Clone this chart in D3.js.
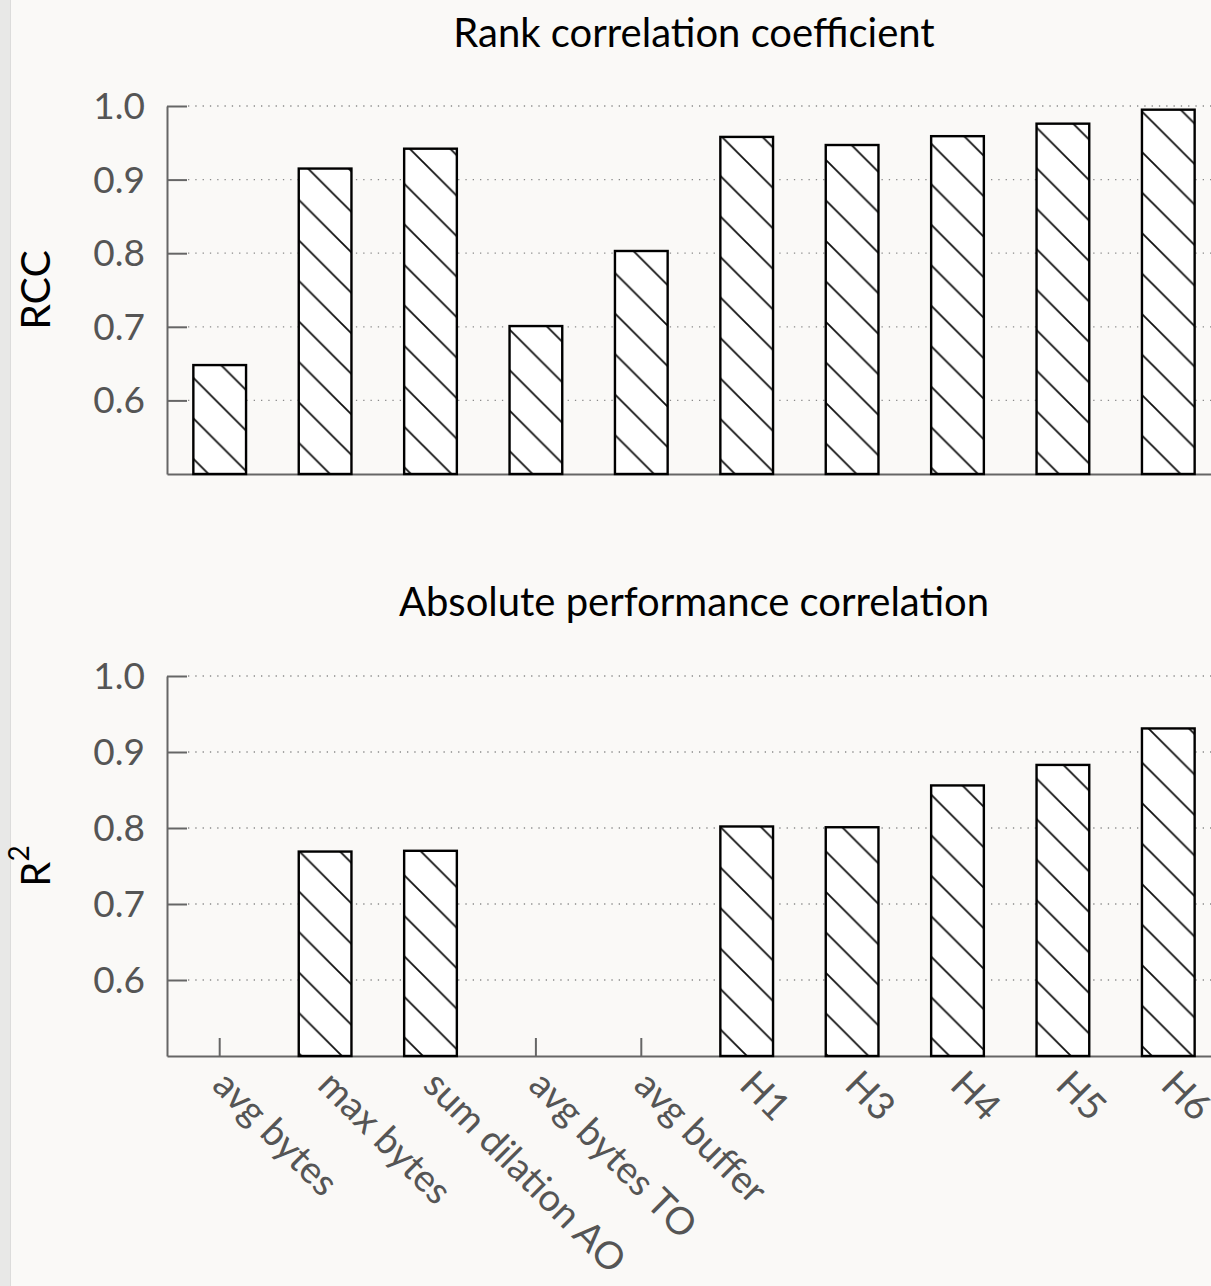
<!DOCTYPE html>
<html>
<head>
<meta charset="utf-8">
<script src="https://cdn.jsdelivr.net/npm/d3@7"></script>
<style>
  html, body { margin: 0; padding: 0; background: #faf9f7; overflow: hidden; }
  svg { display: block; }
  text { font-family: Lato, "Open Sans", sans-serif; }
</style>
</head>
<body>
<svg id="chart" width="1211" height="1286"></svg>
<script>
// Metrics compared against measured performance
const categories = ["avg bytes", "max bytes", "sum dilation AO", "avg bytes TO", "avg buffer",
                    "H1", "H3", "H4", "H5", "H6"];
// Rank correlation coefficient per metric
const rccValues = [0.648, 0.915, 0.942, 0.701, 0.803, 0.958, 0.947, 0.959, 0.976, 0.995];
// Absolute performance correlation (R^2); null where the value falls below the axis floor
const r2Values = [null, 0.769, 0.770, null, null, 0.802, 0.801, 0.856, 0.883, 0.931];
const yTicks = [0.6, 0.7, 0.8, 0.9, 1.0];
const yTickLabels = ["0.6", "0.7", "0.8", "0.9", "1.0"];

const svg = d3.select("#chart");
const W = 1211, H = 1286;

svg.append("rect").attr("width", W).attr("height", H).attr("fill", "#faf9f7");
// page edge strip on the left
svg.append("rect").attr("x", 0).attr("y", 0).attr("width", 10).attr("height", H).attr("fill", "#e8e8e7");
svg.append("line").attr("x1", 10.5).attr("x2", 10.5).attr("y1", 0).attr("y2", H)
  .attr("stroke", "#dcdcdb").attr("stroke-width", 1);

const x = d3.scaleBand().domain(categories).range([167, 1221])
  .paddingInner(0.5).paddingOuter(0.25);

const defs = svg.append("defs");
function hatch(id, offset) {
  const p = defs.append("pattern").attr("id", id)
    .attr("patternUnits", "userSpaceOnUse")
    .attr("width", 40.5).attr("height", 40.5)
    .attr("x", offset).attr("y", 0);
  p.append("rect").attr("width", 40.5).attr("height", 40.5).attr("fill", "#ffffff");
  p.append("path")
    .attr("d", "M-10,-10L50.5,50.5M-10,30.5L10,50.5M30.5,-10L50.5,10")
    .attr("stroke", "#111").attr("stroke-width", 1.8).attr("fill", "none");
}
hatch("hatchTop", 18);
hatch("hatchBottom", 15);

function panel(opts) {
  const { values, top, bottom, title, titleY, patternId, showLabels } = opts;
  const y = d3.scaleLinear().domain([0.5, 1.0]).range([bottom, top]);
  const g = svg.append("g");
  const [x0, x1] = x.range();

  // dotted grid lines
  g.append("g").selectAll("line").data(yTicks).join("line")
    .attr("x1", x0 + 21).attr("x2", x1)
    .attr("y1", d => y(d)).attr("y2", d => y(d))
    .attr("stroke", "#8a8a8a").attr("stroke-width", 1.3)
    .attr("stroke-dasharray", "1.3 6");

  // y axis with inward ticks
  const yAxis = g.append("g").attr("transform", `translate(${x0},0)`)
    .call(d3.axisLeft(y).tickValues(yTicks)
      .tickFormat((d, i) => yTickLabels[i])
      .tickSizeInner(-20).tickSizeOuter(0).tickPadding(22));
  yAxis.select(".domain").attr("stroke", "#666").attr("stroke-width", 2);
  yAxis.selectAll(".tick line").attr("stroke", "#666").attr("stroke-width", 2);
  yAxis.selectAll(".tick text").attr("fill", "#555").attr("font-size", 37)
    .attr("font-family", "Lato, sans-serif").attr("dy", "0.34em");

  // x axis with inward ticks
  const xAxis = g.append("g").attr("transform", `translate(0,${bottom})`)
    .call(d3.axisBottom(x).tickSizeInner(-18).tickSizeOuter(0).tickPadding(0));
  xAxis.select(".domain").attr("stroke", "#666").attr("stroke-width", 2);
  xAxis.selectAll(".tick line").attr("stroke", "#666").attr("stroke-width", 2);
  if (showLabels) {
    xAxis.selectAll(".tick text")
      .attr("fill", "#555").attr("font-size", 38)
      .attr("font-family", "Lato, sans-serif")
      .attr("text-anchor", "start")
      .attr("y", 0).attr("dy", 0)
      .attr("transform", "translate(-9,31) rotate(45)");
  } else {
    xAxis.selectAll(".tick text").remove();
  }

  // bars
  const data = categories.map((c, i) => ({ c, v: values[i] })).filter(d => d.v != null);
  g.append("g").selectAll("rect").data(data).join("rect")
    .attr("x", d => x(d.c))
    .attr("y", d => y(d.v))
    .attr("width", x.bandwidth())
    .attr("height", d => y(0.5) - y(d.v))
    .attr("fill", `url(#${patternId})`)
    .attr("stroke", "#000").attr("stroke-width", 2.4);

  svg.append("text").attr("x", (x0 + x1) / 2).attr("y", titleY)
    .attr("text-anchor", "middle").attr("font-size", 40).attr("fill", "#000")
    .text(title);
  return y;
}

panel({ values: rccValues, top: 106, bottom: 474, title: "Rank correlation coefficient",
        titleY: 47, patternId: "hatchTop", showLabels: false });
panel({ values: r2Values, top: 676, bottom: 1056, title: "Absolute performance correlation",
        titleY: 616, patternId: "hatchBottom", showLabels: true });

// y axis titles
svg.append("text").attr("transform", "translate(50,290) rotate(-90)")
  .attr("text-anchor", "middle").attr("font-size", 41).attr("fill", "#000").text("RCC");
const r2 = svg.append("text").attr("transform", "translate(50,866) rotate(-90)")
  .attr("text-anchor", "middle").attr("font-size", 40).attr("fill", "#000");
r2.append("tspan").text("R");
r2.append("tspan").attr("font-size", 28).attr("dy", "-0.75em").text("2");
</script>
</body>
</html>
